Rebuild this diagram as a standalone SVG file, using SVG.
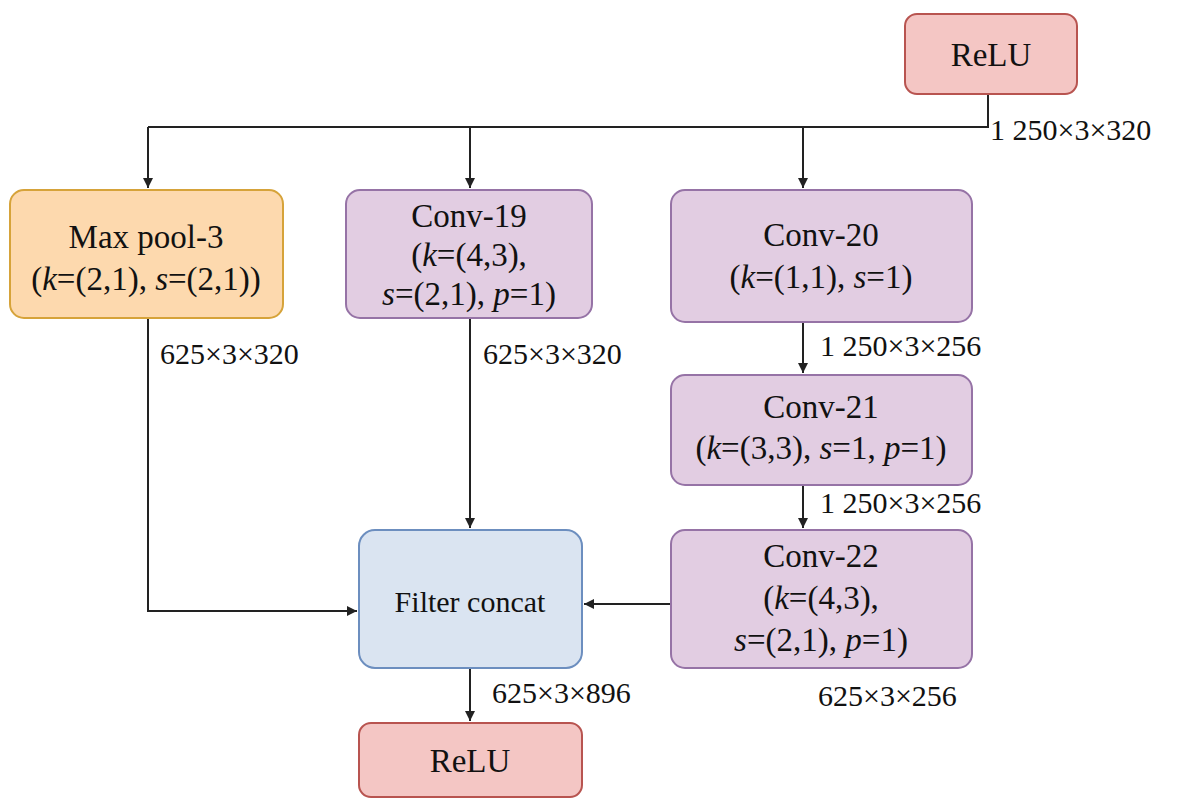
<svg xmlns="http://www.w3.org/2000/svg" width="1200" height="810" viewBox="0 0 1200 810">
<defs>
<marker id="a" viewBox="0 0 10 10" refX="10" refY="5" markerWidth="10" markerHeight="10" markerUnits="userSpaceOnUse" orient="auto"><path d="M0,0L10,5L0,10z" fill="#222"/></marker>
<style>
text{font-family:"Liberation Serif","Times New Roman",serif;fill:#111}
.t{font-size:33px;text-anchor:middle}
.l{font-size:30px}
.r{fill:#f4c6c4;stroke:#b85450;stroke-width:2}
.o{fill:#fdd9ae;stroke:#d6a33a;stroke-width:2}
.p{fill:#e2cde2;stroke:#9673a6;stroke-width:2}
.b{fill:#dae4f1;stroke:#6c8ebf;stroke-width:2}
.c{stroke:#222;stroke-width:2;fill:none}
tspan.i{font-style:italic}
</style>
</defs>
<rect width="1200" height="810" fill="#fff"/>
<g id="connectors">
<path class="c" d="M988,94V127H148"/>
<path class="c" d="M148,127V188" marker-end="url(#a)"/>
<path class="c" d="M470,127V188" marker-end="url(#a)"/>
<path class="c" d="M803,127V188" marker-end="url(#a)"/>
<path class="c" d="M148,318V611H357" marker-end="url(#a)"/>
<path class="c" d="M470,318V528" marker-end="url(#a)"/>
<path class="c" d="M803,322V373" marker-end="url(#a)"/>
<path class="c" d="M803,485V528" marker-end="url(#a)"/>
<path class="c" d="M671,604H584" marker-end="url(#a)"/>
<path class="c" d="M470,668V721" marker-end="url(#a)"/>
<text class="l" x="990" y="140">1 250×3×320</text>
<text class="l" x="160" y="364">625×3×320</text>
<text class="l" x="483" y="364">625×3×320</text>
<text class="l" x="820" y="356">1 250×3×256</text>
<text class="l" x="820" y="513">1 250×3×256</text>
<text class="l" x="492" y="703">625×3×896</text>
<text class="l" x="818" y="706">625×3×256</text>
</g>
<g id="relu-top"><rect class="r" x="905" y="14" width="172" height="80" rx="12"/><text class="t" x="991" y="66">ReLU</text></g>
<g id="maxpool"><rect class="o" x="10" y="190" width="273" height="128" rx="14"/><text class="t" x="146" y="248">Max pool-3</text><text class="t" x="146" y="290">(<tspan class="i">k</tspan>=(2,1), <tspan class="i">s</tspan>=(2,1))</text></g>
<g id="conv19"><rect class="p" x="346" y="190" width="246" height="128" rx="14"/><text class="t" x="469" y="227">Conv-19</text><text class="t" x="469" y="266">(<tspan class="i">k</tspan>=(4,3),</text><text class="t" x="469" y="305"><tspan class="i">s</tspan>=(2,1), <tspan class="i">p</tspan>=1)</text></g>
<g id="conv20"><rect class="p" x="671" y="190" width="301" height="132" rx="14"/><text class="t" x="821" y="246">Conv-20</text><text class="t" x="821" y="288">(<tspan class="i">k</tspan>=(1,1), <tspan class="i">s</tspan>=1)</text></g>
<g id="conv21"><rect class="p" x="671" y="375" width="301" height="110" rx="14"/><text class="t" x="821" y="418">Conv-21</text><text class="t" x="821" y="459">(<tspan class="i">k</tspan>=(3,3), <tspan class="i">s</tspan>=1, <tspan class="i">p</tspan>=1)</text></g>
<g id="conv22"><rect class="p" x="671" y="530" width="301" height="138" rx="14"/><text class="t" x="821" y="567">Conv-22</text><text class="t" x="821" y="609">(<tspan class="i">k</tspan>=(4,3),</text><text class="t" x="821" y="651"><tspan class="i">s</tspan>=(2,1), <tspan class="i">p</tspan>=1)</text></g>
<g id="concat"><rect class="b" x="359" y="530" width="223" height="138" rx="16"/><text class="t" x="470" y="612" style="font-size:30px">Filter concat</text></g>
<g id="relu-bottom"><rect class="r" x="359" y="723" width="223" height="74" rx="12"/><text class="t" x="470" y="772">ReLU</text></g>
</svg>
